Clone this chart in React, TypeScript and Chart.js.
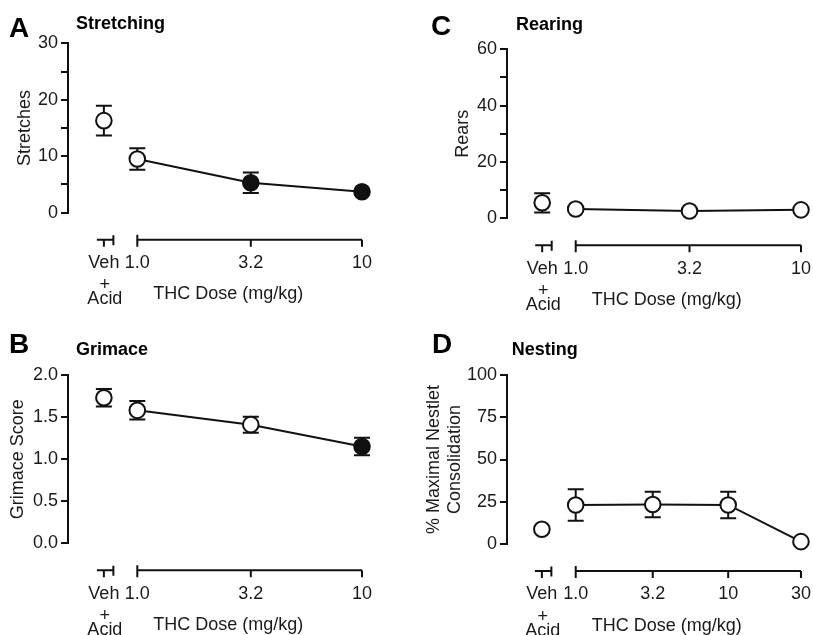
import React, { useEffect, useRef } from "react";
import { Chart, registerables } from "chart.js";

Chart.register(...registerables);

const FONT = 'Arial, "Liberation Sans", Helvetica, sans-serif';
const INK = "#1a1a1a";
const LINE = "#111111";

// ---- x axis groups ----
const vehicleTickLabel = "Veh";
const vehicleSubLabels = ["+", "Acid"];
const xAxisTitle = "THC Dose (mg/kg)";
const thcDoses = [1, 3.2, 10];
const thcDoseLabels = ["1.0", "3.2", "10"];
const nestDoses = [1, 3.2, 10, 30];
const nestDoseLabels = ["1.0", "3.2", "10", "30"];
// where the vehicle group sits on the log dose axis
const vehicleDose3 = 0.71;
const vehicleDose4 = 0.6;

// ---- A: Stretching ----
const stretchVehicle = [16.3];
const stretchVehicleSem = [2.65];
const stretchMeans = [9.5, 5.3, 3.7];
const stretchSems = [1.9, 1.8, 0.5];
const stretchSignificant = [false, true, true];

// ---- B: Grimace ----
const grimaceVehicle = [1.73];
const grimaceVehicleSem = [0.105];
const grimaceMeans = [1.58, 1.41, 1.15];
const grimaceSems = [0.11, 0.095, 0.105];
const grimaceSignificant = [false, false, true];

// ---- C: Rearing ----
const rearVehicle = [5.5];
const rearVehicleSem = [3.4];
const rearMeans = [3.3, 2.6, 3.0];
const rearSems = [0.8, 0.6, 0.7];
const rearSignificant = [false, false, false];

// ---- D: Nesting ----
const nestVehicle = [8.7];
const nestVehicleSem = [1.5];
const nestMeans = [23.1, 23.4, 23.1, 1.4];
const nestSems = [9.3, 7.5, 7.8, 1.0];
const nestSignificant = [false, false, false, false];

type Spec = {
  letter: string;
  title: string;
  yTitle: string | string[];
  yMax: number;
  yStep: number;
  yLabelStep: number;
  decimals: number;
  doses: number[];
  doseLabels: string[];
  vehDose: number;
  vehMean: number[];
  vehSem: number[];
  means: number[];
  sems: number[];
  filled: boolean[];
  rect: { left: number; top: number; w: number; h: number };
  area: { left: number; top: number; right: number; bottom: number };
  p1: number;
  perDecade: number;
  yTitlePad: number;
  letterPos: [number, number];
  titlePos: [number, number];
};

const specs: Spec[] = [
  {
    letter: "A", title: "Stretching", yTitle: "Stretches",
    yMax: 30, yStep: 5, yLabelStep: 10, decimals: 0,
    doses: thcDoses, doseLabels: thcDoseLabels, vehDose: vehicleDose3,
    vehMean: stretchVehicle, vehSem: stretchVehicleSem,
    means: stretchMeans, sems: stretchSems, filled: stretchSignificant,
    rect: { left: 0, top: 0, w: 406, h: 317 },
    area: { left: 68, top: 43.3, right: 380, bottom: 212.7 },
    p1: 137.3, perDecade: 224.7, yTitlePad: 14.5,
    letterPos: [9, 36.7], titlePos: [76, 28.5],
  },
  {
    letter: "C", title: "Rearing", yTitle: "Rears",
    yMax: 60, yStep: 10, yLabelStep: 20, decimals: 0,
    doses: thcDoses, doseLabels: thcDoseLabels, vehDose: vehicleDose3,
    vehMean: rearVehicle, vehSem: rearVehicleSem,
    means: rearMeans, sems: rearSems, filled: rearSignificant,
    rect: { left: 406, top: 0, w: 407, h: 317 },
    area: { left: 101, top: 49.3, right: 397, bottom: 218.3 },
    p1: 169.7, perDecade: 225.3, yTitlePad: 46.5,
    letterPos: [25, 34.5], titlePos: [110, 29.6],
  },
  {
    letter: "B", title: "Grimace", yTitle: "Grimace Score",
    yMax: 2, yStep: 0.5, yLabelStep: 0.5, decimals: 1,
    doses: thcDoses, doseLabels: thcDoseLabels, vehDose: vehicleDose3,
    vehMean: grimaceVehicle, vehSem: grimaceVehicleSem,
    means: grimaceMeans, sems: grimaceSems, filled: grimaceSignificant,
    rect: { left: 0, top: 317, w: 406, h: 318 },
    area: { left: 68, top: 58, right: 380, bottom: 226.3 },
    p1: 137.3, perDecade: 224.7, yTitlePad: 7.5,
    letterPos: [9, 36], titlePos: [76, 38.3],
  },
  {
    letter: "D", title: "Nesting", yTitle: ["% Maximal Nestlet", "Consolidation"],
    yMax: 100, yStep: 25, yLabelStep: 25, decimals: 0,
    doses: nestDoses, doseLabels: nestDoseLabels, vehDose: vehicleDose4,
    vehMean: nestVehicle, vehSem: nestVehicleSem,
    means: nestMeans, sems: nestSems, filled: nestSignificant,
    rect: { left: 406, top: 317, w: 407, h: 318 },
    area: { left: 101, top: 58, right: 397, bottom: 227 },
    p1: 169.7, perDecade: 152.5, yTitlePad: 17,
    letterPos: [26, 36], titlePos: [105.7, 37.6],
  },
];

function makeDecor(spec: Spec) {
  return {
    id: "decor" + spec.letter,
    beforeDatasetsDraw(chart: any) {
      const { ctx } = chart;
      const xs = chart.scales.x;
      const ys = chart.scales.y;
      const bars: [number, number, number][] = [
        [spec.vehDose, spec.vehMean[0], spec.vehSem[0]],
        ...spec.doses.map((d, i) => [d, spec.means[i], spec.sems[i]] as [number, number, number]),
      ];
      ctx.save();
      ctx.strokeStyle = LINE;
      ctx.lineWidth = 2;
      for (const [d, m, s] of bars) {
        if (!s) continue;
        const x = xs.getPixelForValue(d);
        const yt = ys.getPixelForValue(m + s);
        const yb = ys.getPixelForValue(Math.max(0, m - s));
        ctx.beginPath();
        ctx.moveTo(x, yt);
        ctx.lineTo(x, yb);
        ctx.moveTo(x - 8, yt);
        ctx.lineTo(x + 8, yt);
        ctx.moveTo(x - 8, yb);
        ctx.lineTo(x + 8, yb);
        ctx.stroke();
      }
      ctx.restore();
    },
    afterDraw(chart: any) {
      const { ctx, chartArea } = chart;
      const xs = chart.scales.x;
      const ay = chartArea.bottom + 27;
      ctx.save();
      ctx.strokeStyle = LINE;
      ctx.lineWidth = 2;
      // vehicle mini-axis
      const vx = xs.getPixelForValue(spec.vehDose);
      ctx.beginPath();
      ctx.moveTo(vx - 7, ay);
      ctx.lineTo(vx + 9.5, ay);
      ctx.moveTo(vx, ay);
      ctx.lineTo(vx, ay + 7);
      ctx.moveTo(vx + 9.5, ay - 4.5);
      ctx.lineTo(vx + 9.5, ay + 5.5);
      ctx.stroke();
      // dose axis
      const px = spec.doses.map((d) => xs.getPixelForValue(d));
      ctx.beginPath();
      ctx.moveTo(px[0], ay);
      ctx.lineTo(px[px.length - 1], ay);
      ctx.moveTo(px[0], ay - 5);
      ctx.lineTo(px[0], ay);
      px.forEach((p) => {
        ctx.moveTo(p, ay);
        ctx.lineTo(p, ay + 7);
      });
      ctx.stroke();

      ctx.fillStyle = INK;
      ctx.font = `18px ${FONT}`;
      ctx.textAlign = "center";
      ctx.textBaseline = "alphabetic";
      spec.doseLabels.forEach((l, i) => ctx.fillText(l, px[i], ay + 28.3));
      ctx.fillText(vehicleTickLabel, vx, ay + 28.3);
      ctx.fillText(vehicleSubLabels[0], vx + 1, ay + 50.5);
      ctx.fillText(vehicleSubLabels[1], vx + 1, ay + 64.5);
      ctx.fillText(xAxisTitle, px[0] + 91, ay + 59.5);

      ctx.textAlign = "left";
      ctx.font = `bold 28px ${FONT}`;
      ctx.fillStyle = "#000";
      ctx.fillText(spec.letter, spec.letterPos[0], spec.letterPos[1]);
      ctx.font = `bold 18px ${FONT}`;
      ctx.fillText(spec.title, spec.titlePos[0], spec.titlePos[1]);
      ctx.restore();
    },
  };
}

function Panel({ spec }: { spec: Spec }) {
  const ref = useRef<HTMLCanvasElement>(null);
  useEffect(() => {
    const { area, rect } = spec;
    const xMin = Math.pow(10, (area.left - spec.p1) / spec.perDecade);
    const xMax = Math.pow(10, (area.right - spec.p1) / spec.perDecade);
    const chart = new Chart(ref.current as HTMLCanvasElement, {
      type: "line",
      data: {
        datasets: [
          {
            label: "THC",
            data: spec.doses.map((d, i) => ({ x: d, y: spec.means[i] })),
            borderColor: LINE,
            borderWidth: 2,
            pointRadius: 7.8,
            pointBorderWidth: 2,
            pointBorderColor: LINE,
            pointBackgroundColor: spec.filled.map((f) => (f ? LINE : "#ffffff")),
            showLine: true,
            tension: 0,
            clip: false as any,
          },
          {
            label: "Vehicle",
            data: [{ x: spec.vehDose, y: spec.vehMean[0] }],
            showLine: false,
            pointRadius: 7.8,
            pointBorderWidth: 2,
            pointBorderColor: LINE,
            pointBackgroundColor: "#ffffff",
            clip: false as any,
          },
        ],
      },
      options: {
        responsive: false,
        animation: false,
        events: [],
        layout: {
          autoPadding: false,
          padding: {
            left: 0,
            top: area.top,
            right: rect.w - area.right,
            bottom: rect.h - area.bottom,
          },
        },
        plugins: { legend: { display: false }, tooltip: { enabled: false }, title: { display: false } },
        scales: {
          x: { type: "logarithmic", min: xMin, max: xMax, display: false },
          y: {
            type: "linear",
            min: 0,
            max: spec.yMax,
            afterFit: (s: any) => {
              s.width = area.left;
            },
            border: { display: true, color: LINE, width: 2 },
            grid: { drawOnChartArea: false, drawTicks: true, tickLength: 7, color: LINE, lineWidth: 2 },
            ticks: {
              stepSize: spec.yStep,
              autoSkip: false,
              padding: 3,
              color: INK,
              font: { family: FONT, size: 18 },
              callback: (v: any) => {
                const n = Number(v);
                const r = n / spec.yLabelStep;
                return Math.abs(r - Math.round(r)) < 1e-6 ? n.toFixed(spec.decimals) : "";
              },
            },
            title: {
              display: true,
              text: spec.yTitle as any,
              color: INK,
              font: { family: FONT, size: 18 },
              padding: { top: spec.yTitlePad, bottom: 0 },
            },
          },
        },
      } as any,
      plugins: [makeDecor(spec)],
    });
    return () => chart.destroy();
  }, [spec]);
  return (
    <canvas
      ref={ref}
      width={spec.rect.w}
      height={spec.rect.h}
      style={{
        position: "absolute",
        left: spec.rect.left,
        top: spec.rect.top,
        width: spec.rect.w,
        height: spec.rect.h,
      }}
    />
  );
}

export default function App() {
  return (
    <div
      style={{
        position: "fixed",
        left: 0,
        top: 0,
        width: 813,
        height: 635,
        background: "#ffffff",
        overflow: "hidden",
      }}
    >
      {specs.map((s) => (
        <Panel key={s.letter} spec={s} />
      ))}
    </div>
  );
}
